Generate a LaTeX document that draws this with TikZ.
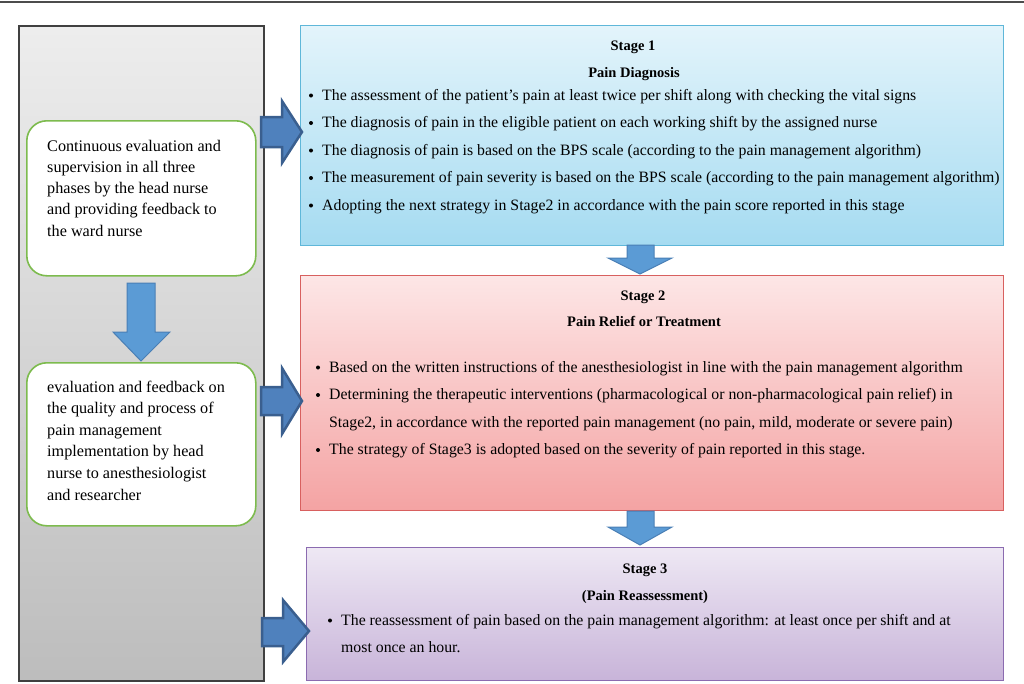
\documentclass[tikz,border=0pt]{standalone}
\usepackage{fontspec}
\setmainfont{Liberation Serif}
\definecolor{rblue}{HTML}{4F81BD}
\definecolor{rblueD}{HTML}{3A5F8F}
\definecolor{dblue}{HTML}{5B9BD5}
\definecolor{dblueD}{HTML}{4A7FB5}
\definecolor{grn}{HTML}{7DBB4E}
\definecolor{s1t}{HTML}{E3F4FB}
\definecolor{s1b}{HTML}{A5DBF1}
\definecolor{s1d}{HTML}{5FB7D9}
\definecolor{s2t}{HTML}{FDE6E6}
\definecolor{s2b}{HTML}{F4A3A3}
\definecolor{s2d}{HTML}{D8605F}
\definecolor{s3t}{HTML}{EEE8F4}
\definecolor{s3b}{HTML}{C8B4D9}
\definecolor{s3d}{HTML}{8B6BB0}
\begin{document}
\begin{tikzpicture}[x=1pt,y=-1pt,
 txt/.style={inner sep=0pt, anchor=base west, font=\fontsize{15.8}{18}\selectfont},
 ttl/.style={inner sep=0pt, anchor=base, font=\fontsize{14.5}{17}\selectfont\bfseries},
 ltxt/.style={inner sep=0pt, anchor=base west, font=\fontsize{16.2}{19}\selectfont},
 bul/.style={circle, fill=black, inner sep=0pt, minimum size=4pt},
 rarrow/.style={fill=rblue, draw=rblueD, line width=2.5pt, line join=miter},
 darrow/.style={fill=dblue, draw=dblueD, line width=1pt, line join=miter},
 stagebox/.style={anchor=north west, inner sep=0pt, line width=1pt},
 greenbox/.style={anchor=north west, inner sep=0pt, draw=grn, fill=white, line width=1.6pt, rounded corners=20pt, minimum width=229pt}]
\useasboundingbox (0,0) rectangle (1024,683);
\draw[line width=2pt, black!70] (0,2) -- (1024,2);
% left gray panel
\node[stagebox, draw=black!75, line width=1.5pt, top color=black!7, bottom color=black!26, minimum width=245pt, minimum height=655pt] (gray) at (18,25) {};
\node[greenbox, minimum height=155pt] (g1) at (26,120) {};
\node[greenbox, minimum height=163pt] (g2) at (26,362) {};
% left text
\node[ltxt] (l1a) at (47,151) {Continuous evaluation and};
\node[ltxt] (l1b) at (47,172.3) {supervision in all three};
\node[ltxt] (l1c) at (47,193.6) {phases by the head nurse};
\node[ltxt] (l1d) at (47,214.9) {and providing feedback to};
\node[ltxt] (l1e) at (47,236.2) {the ward nurse};
\node[ltxt] (l2a) at (47,392) {evaluation and feedback on};
\node[ltxt] (l2b) at (47,413.6) {the quality and process of};
\node[ltxt] (l2c) at (47,435.2) {pain management};
\node[ltxt] (l2d) at (47,456.8) {implementation by head};
\node[ltxt] (l2e) at (47,478.4) {nurse to anesthesiologist};
\node[ltxt] (l2f) at (47,500) {and researcher};
% stage boxes
\node[stagebox, draw=s1d, top color=s1t, bottom color=s1b, minimum width=703pt, minimum height=220pt] (s1) at (300,25) {};
\node[stagebox, draw=s2d, top color=s2t, bottom color=s2b, minimum width=703pt, minimum height=235pt] (s2) at (300,275) {};
\node[stagebox, draw=s3d, top color=s3t, bottom color=s3b, minimum width=697pt, minimum height=133pt] (s3) at (306,547) {};
% arrows
\draw[darrow] (127,283) -- (155,283) -- (155,332) -- (170,332) -- (141,361) -- (113,332) -- (127,332) -- cycle;
\draw[darrow] (627,245) -- (654,245) -- (654,258) -- (672,258) -- (640,274) -- (608,258) -- (627,258) -- cycle;
\draw[darrow] (627,511) -- (654,511) -- (654,527) -- (672,527) -- (640,545) -- (608,527) -- (627,527) -- cycle;
\draw[rarrow] (261,117) -- (282,117) -- (282,101) -- (302,132) -- (282,163) -- (282,147) -- (261,147) -- cycle;
\draw[rarrow] (261,387) -- (282,387) -- (282,368) -- (302,401) -- (282,434) -- (282,415) -- (261,415) -- cycle;
\draw[rarrow] (262,618) -- (283,618) -- (283,600) -- (309,631) -- (283,662) -- (283,646) -- (262,646) -- cycle;
% stage 1 text
\node[ttl] (t1a) at (633,50) {Stage 1};
\node[ttl] (t1b) at (634,77) {Pain Diagnosis};
\foreach \yy/\tx [count=\i] in {100/{The assessment of the patient’s pain at least twice per shift along with checking the vital signs},
 127.5/{The diagnosis of pain in the eligible patient on each working shift by the assigned nurse},
 155/{The diagnosis of pain is based on the BPS scale (according to the pain management algorithm)},
 182.5/{The measurement of pain severity is based on the BPS scale (according to the pain management algorithm)},
 210/{Adopting the next strategy in Stage2 in accordance with the pain score reported in this stage}}{
 \node[bul] (b1\i) at (311,\yy-4.5) {};
 \node[txt] (x1\i) at (322,\yy) {\tx};
}
% stage 2 text
\node[ttl] (t2a) at (643,300) {Stage 2};
\node[ttl] (t2b) at (644,326) {Pain Relief or Treatment};
\node[bul] (b21) at (318,367.5) {};
\node[txt] (x21) at (329,372) {Based on the written instructions of the anesthesiologist in line with the pain management algorithm};
\node[bul] (b22) at (318,395) {};
\node[txt] (x22) at (329,399.5) {Determining the therapeutic interventions (pharmacological or non-pharmacological pain relief) in};
\node[txt] (x22b) at (329,427) {Stage2, in accordance with the reported pain management (no pain, mild, moderate or severe pain)};
\node[bul] (b23) at (318,450) {};
\node[txt] (x23) at (329,454.5) {The strategy of Stage3 is adopted based on the severity of pain reported in this stage.};
% stage 3 text
\node[ttl] (t3a) at (645,573) {Stage 3};
\node[ttl] (t3b) at (645,600) {(Pain Reassessment)};
\node[bul] (b31) at (330,620.5) {};
\node[txt] (x31) at (341,625) {The reassessment of pain based on the pain management algorithm: at least once per shift and at};
\node[txt] (x31b) at (341,652) {most once an hour.};
\end{tikzpicture}
\end{document}
